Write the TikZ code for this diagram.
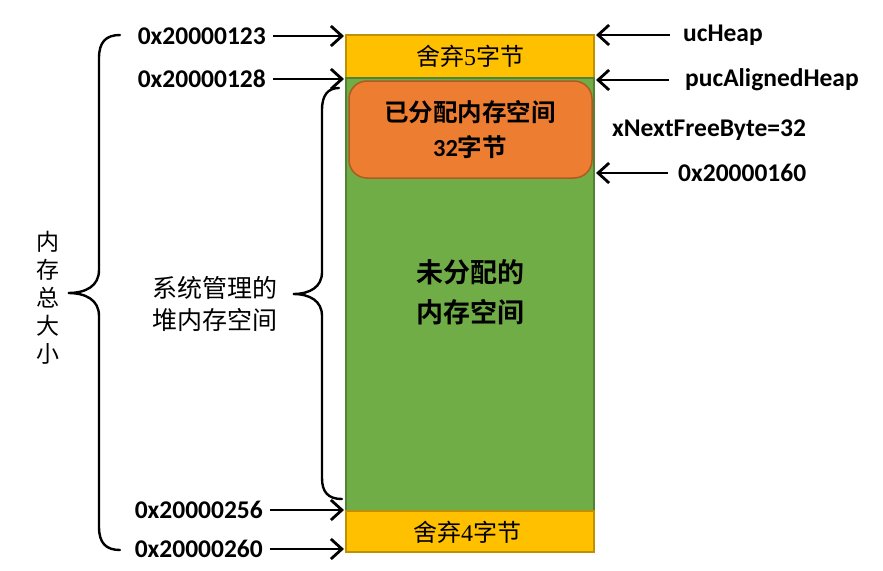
\documentclass[tikz,border=0pt]{standalone}
\usepackage{fontspec}
\setmainfont{Carlito}
\newfontfamily\cjk{Noto Sans CJK SC}[BoldFont={Noto Sans CJK SC Bold}]
\newfontfamily\serifnum{Liberation Serif}
\usetikzlibrary{arrows.meta}
\definecolor{padfill}{HTML}{FFC000}
\definecolor{paddraw}{HTML}{BF9000}
\definecolor{freefill}{HTML}{70AD47}
\definecolor{freedraw}{HTML}{548235}
\definecolor{usedfill}{HTML}{ED7D31}
\definecolor{useddraw}{HTML}{AE5A21}
\tikzset{
  addr/.style={font=\fontsize{25.5}{30}\selectfont\bfseries, inner sep=0pt},
  ptr/.style={line width=2.8pt, -{Straight Barb[length=11pt,width=20pt]}, shorten <=7pt},
  curly/.style={line width=2.4pt, line cap=round},
}
\begin{document}
\begin{tikzpicture}[x=1pt,y=-1pt]
    \useasboundingbox (0,0) rectangle (883,570);
    % Heap blocks
    \draw[line width=2pt, draw=paddraw, fill=padfill] (346,35) rectangle (594,78);
    \draw[line width=2pt, draw=freedraw, fill=freefill] (346,78) rectangle (594,511);
    \draw[line width=2pt, draw=paddraw, fill=padfill] (346,511) rectangle (594,552);
    \draw[line width=1.5pt, draw=useddraw, fill=usedfill, rounded corners=18pt] (349,81) rectangle (592,178);
    % Block texts
    \node[font=\fontsize{24}{30}\selectfont] (pad5) at (470,56) {\cjk 舍弃\serifnum 5\cjk 字节};
    \node[font=\fontsize{24.5}{35}\selectfont\bfseries, align=center] (used) at (470,130) {\cjk 已分配内存空间\\32\cjk 字节};
    \node[font=\fontsize{27}{40}\selectfont\bfseries, align=center] (free) at (470,292) {\cjk 未分配的\\\cjk 内存空间};
    \node[font=\fontsize{24}{30}\selectfont] (pad4) at (467,532) {\cjk 舍弃\serifnum 4\cjk 字节};
    % Addresses on the left
    \node[addr, anchor=east] (a123) at (266,36) {0x20000123};
    \node[addr, anchor=east] (a128) at (266,79) {0x20000128};
    \node[addr, anchor=east] (a256) at (263,510) {0x20000256};
    \node[addr, anchor=east] (a260) at (263,549) {0x20000260};
    \coordinate (h123) at (344,36);
    \coordinate (h128) at (344,79);
    \coordinate (h256) at (344,510);
    \coordinate (h260) at (344,549);
    \draw[ptr] (a123) -- (h123);
    \draw[ptr] (a128) -- (h128);
    \draw[ptr] (a256) -- (h256);
    \draw[ptr] (a260) -- (h260);
    % Pointers on the right
    \node[addr, anchor=west] (ucheap) at (683,35) {ucHeap};
    \node[addr, anchor=west] (aligned) at (685,80) {pucAlignedHeap};
    \node[addr, anchor=west] (nextfree) at (612,130) {xNextFreeByte=32};
    \node[addr, anchor=west] (a160) at (678,173) {0x20000160};
    \coordinate (r035) at (596,35);
    \coordinate (r080) at (596,80);
    \coordinate (r173) at (596,173);
    \draw[ptr, shorten <=13pt] (ucheap) -- (r035);
    \draw[ptr, shorten <=16pt] (aligned) -- (r080);
    \draw[ptr, shorten <=10pt] (a160) -- (r173);
    % Braces
    \draw[curly] (120,35) .. controls (106,35) and (99,42) .. (99,58) -- (99,270)
      .. controls (99,286) and (86,293) .. (68,293)
      .. controls (86,293) and (99,300) .. (99,316) -- (99,527)
      .. controls (99,543) and (106,550) .. (120,550);
    \draw[curly] (339,88) .. controls (328,88) and (322,95) .. (322,110) -- (322,272)
      .. controls (322,287) and (310,294) .. (293,294)
      .. controls (310,294) and (322,301) .. (322,316) -- (322,478)
      .. controls (322,492) and (328,499) .. (342,499);
    % Brace labels
    \node[font=\fontsize{23}{28}\selectfont, align=center] (total) at (48,298) {\cjk 内\\\cjk 存\\\cjk 总\\\cjk 大\\\cjk 小};
    \node[font=\fontsize{25}{32}\selectfont, align=center] (managed) at (215,304) {\cjk 系统管理的\\\cjk 堆内存空间};
\end{tikzpicture}
\end{document}
